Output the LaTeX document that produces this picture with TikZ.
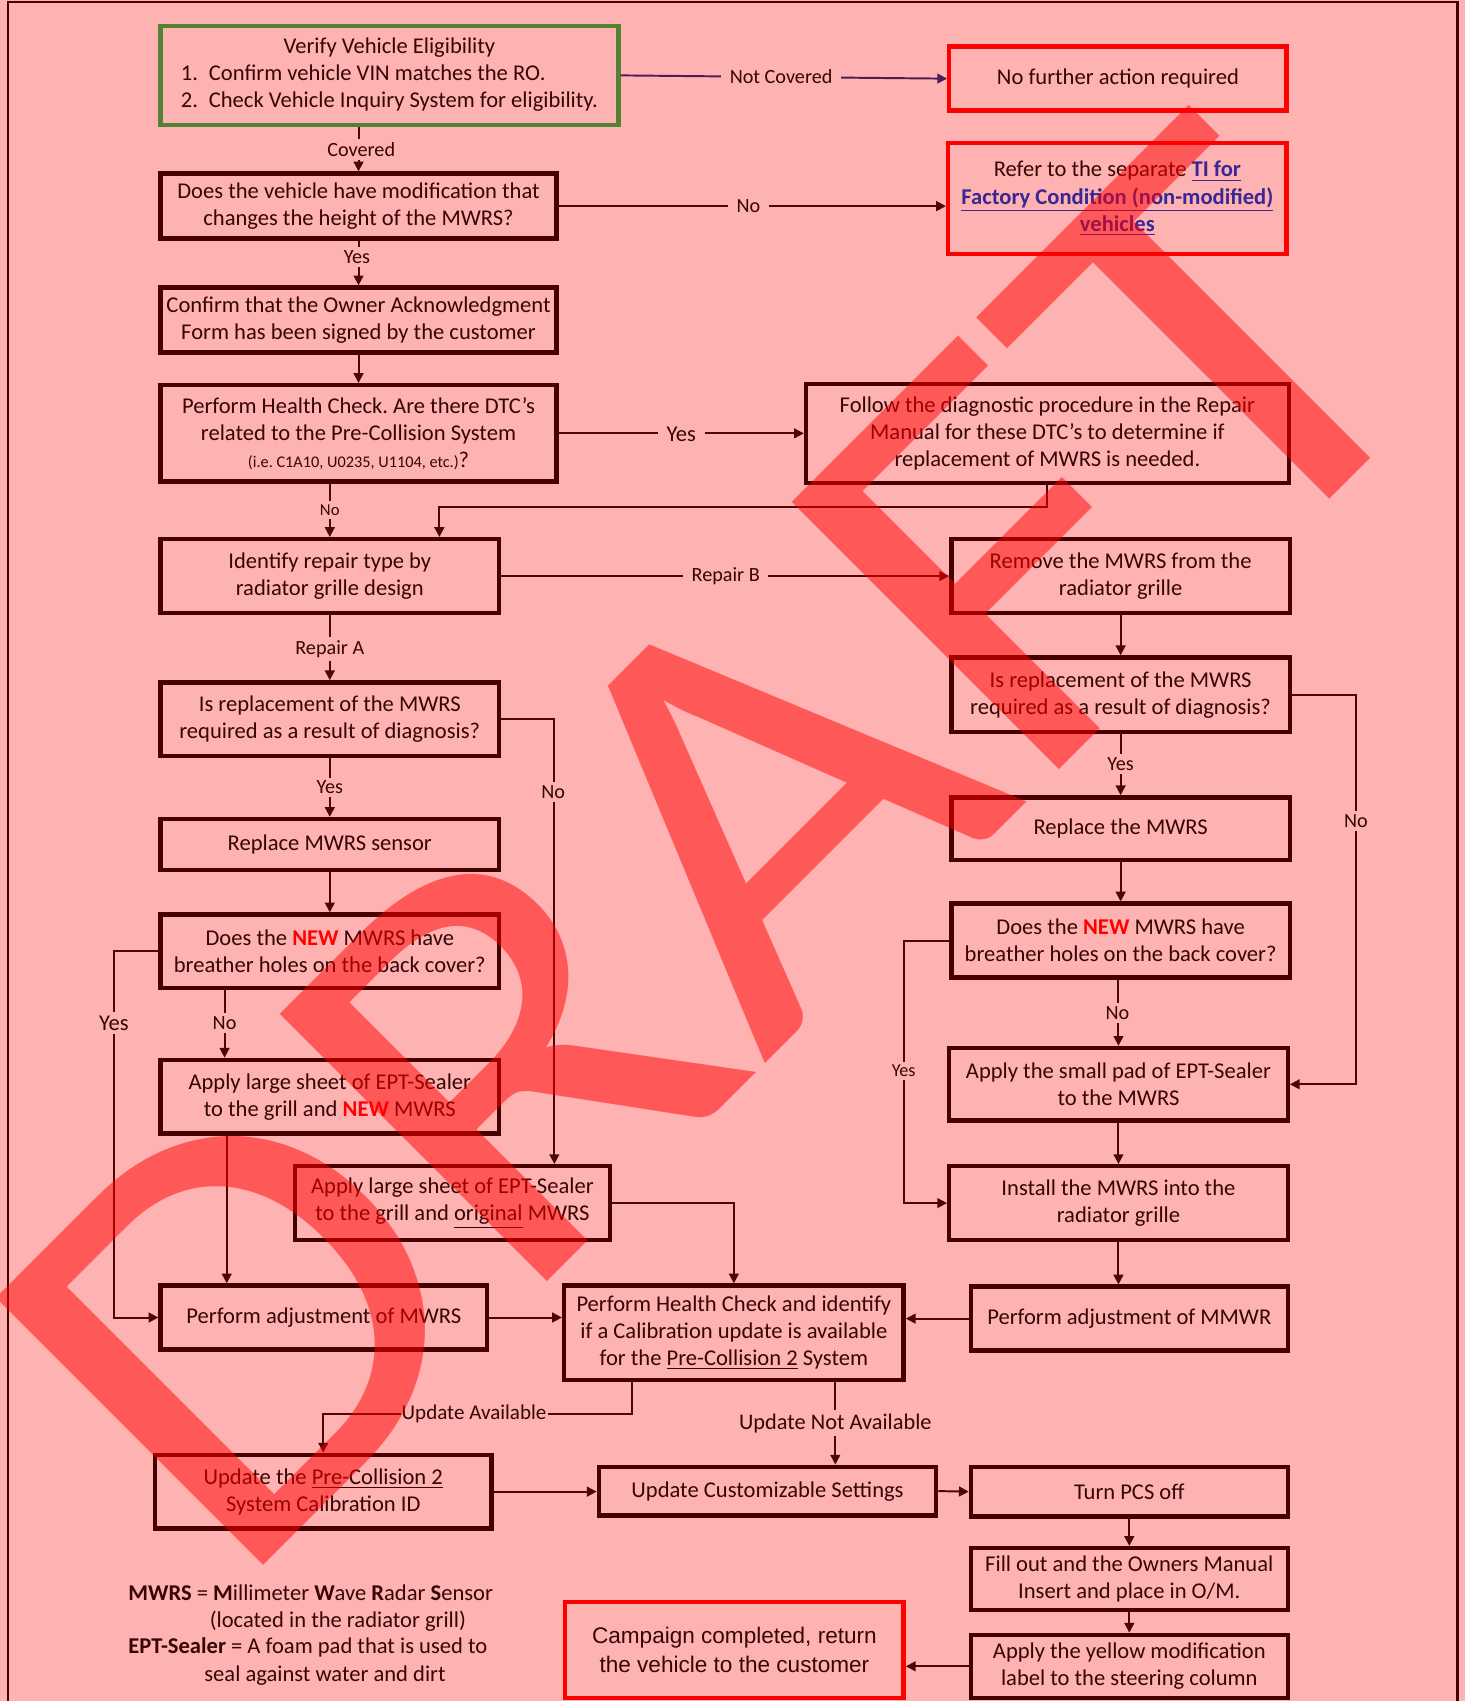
\documentclass[tikz,border=0pt]{standalone}
\usepackage{fontspec}
\setmainfont{Carlito}
\newfontfamily\arialf{Liberation Sans}
\usetikzlibrary{arrows.meta}
\frenchspacing
\definecolor{bg}{RGB}{255,178,178}
\definecolor{txt}{RGB}{55,5,5}
\definecolor{bx}{RGB}{70,0,0}
\definecolor{ln}{RGB}{80,5,5}
\definecolor{gr}{RGB}{84,130,53}
\definecolor{lk}{RGB}{55,40,150}
\definecolor{nc}{RGB}{75,30,85}
\newcommand\lnk[1]{\textcolor{lk}{\underline{\textbf{#1}}}}
\newcommand\nw{\textcolor{red}{\textbf{NEW}}}
\newcommand\mybox[7]{%
 \pgfmathsetmacro\bxcx{(#2+#4)/2}\pgfmathsetmacro\bxcy{(#3+#5)/2}%
 \pgfmathsetmacro\bxw{(#4-#2)*0.5}\pgfmathsetmacro\bxh{(#5-#3)*0.5}%
 \node[#6, minimum width=\bxw pt, minimum height=\bxh pt] (#1) at (\bxcx,\bxcy) {#7};}
\tikzset{
 box/.style={draw=bx, line width=2pt, inner sep=0pt, align=center, text=txt, font=\fontsize{10.4}{12.5}\selectfont},
 gbox/.style={box, draw=gr},
 rbox/.style={box, draw=red},
 conn/.style={draw=ln, line width=0.9pt},
 arr/.style={conn, -{Triangle[length=4.5pt,width=4.5pt]}},
 lab/.style={fill=bg, inner ysep=1.5pt, inner xsep=4pt, text=txt, font=\fontsize{9.3}{11}\selectfont},
 labL/.style={lab, font=\fontsize{10.4}{12}\selectfont},
 labS/.style={lab, font=\fontsize{7.7}{9}\selectfont},
 labM/.style={lab, font=\fontsize{8.4}{10}\selectfont},
 leg/.style={inner sep=0pt, text=txt, font=\fontsize{10.4}{12.5}\selectfont},
}
\begin{document}
\begin{tikzpicture}[x=0.5pt, y=-0.5pt]
\useasboundingbox (0,0) rectangle (1350,1568);
\fill[bg] (0,0) rectangle (1350,1568);
\draw[draw=bx, line width=1pt] (7,1575) -- (7,2) -- (1343.5,2) -- (1343.5,1575);

% boxes
\mybox{B1}{148}{24}{570}{115}{gbox}{\begin{tabular}{@{}l@{\hspace{5pt}}l@{}}\multicolumn{2}{c}{Verify Vehicle Eligibility}\\1.&Confirm vehicle VIN matches the RO.\\2.&Check Vehicle Inquiry System for eligibility.\end{tabular}}
\mybox{N1}{875}{43}{1186}{102}{rbox}{No further action required}
\mybox{B2}{148}{160}{513}{220}{box}{Does the vehicle have modification that\\changes the height of the MWRS?}
\mybox{N2}{874}{132}{1186}{234}{rbox}{Refer to the separate \lnk{TI for}\\\lnk{Factory Condition (non-modified)}\\\lnk{vehicles}}
\mybox{B3}{148}{265}{513}{325}{box}{Confirm that the Owner Acknowledgment\\Form has been signed by the customer}
\mybox{B4}{148}{355}{513}{444}{box}{Perform Health Check. Are there DTC’s\\related to the Pre-Collision System\\{\fontsize{7.5}{12.5}\selectfont(i.e. C1A10, U0235, U1104, etc.)}?}
\mybox{B5}{743}{354}{1188}{445}{box}{Follow the diagnostic procedure in the Repair\\Manual for these DTC’s to determine if\\replacement of MWRS is needed.}
\mybox{B6}{148}{497}{460}{565}{box}{Identify repair type by\\radiator grille design}
\mybox{B7}{877}{497}{1189}{565}{box}{Remove the MWRS from the\\radiator grille}
\mybox{B8}{877}{606}{1189}{675}{box}{Is replacement of the MWRS\\required as a result of diagnosis?}
\mybox{B9}{148}{629}{460}{697}{box}{Is replacement of the MWRS\\required as a result of diagnosis?}
\mybox{B10}{148}{755}{460}{802}{box}{Replace MWRS sensor}
\mybox{B12}{148}{843}{460}{911}{box}{Does the \nw{} MWRS have\\breather holes on the back cover?}
\mybox{B13}{148}{977}{460}{1045}{box}{Apply large sheet of EPT-Sealer\\to the grill and \nw{} MWRS}
\mybox{B11}{272}{1075}{562}{1143}{box}{Apply large sheet of EPT-Sealer\\to the grill and \underline{original} MWRS}
\mybox{B14}{148}{1185}{449}{1244}{box}{Perform adjustment of MWRS}
\mybox{B15}{520}{1185}{833}{1272}{box}{Perform Health Check and identify\\if a Calibration update is available\\for the \underline{Pre-Collision 2} System}
\mybox{B16}{895}{1186}{1187}{1245}{box}{Perform adjustment of MMWR}
\mybox{B17}{877}{735}{1189}{793}{box}{Replace the MWRS}
\mybox{B18}{877}{833}{1189}{901}{box}{Does the \nw{} MWRS have\\breather holes on the back cover?}
\mybox{B19}{875}{966}{1187}{1033}{box}{Apply the small pad of EPT-Sealer\\to the MWRS}
\mybox{B20}{875}{1075}{1187}{1143}{box}{Install the MWRS into the\\radiator grille}
\mybox{B21}{143}{1341}{453}{1409}{box}{Update the \underline{Pre-Collision 2}\\System Calibration ID}
\mybox{B22}{552}{1352}{863}{1397}{box}{Update Customizable Settings}
\mybox{B23}{895}{1352}{1187}{1398}{box}{Turn PCS off}
\mybox{B24}{895}{1427}{1187}{1484}{box}{Fill out and the Owners Manual\\Insert and place in O/M.}
\mybox{B25}{895}{1507}{1187}{1565}{box}{Apply the yellow modification\\label to the steering column}
\mybox{B26}{521}{1477}{833}{1565}{rbox, font=\arialf\fontsize{10.4}{13}\selectfont}{Campaign completed, return\\the vehicle to the customer}

% connectors
\draw[arr, draw=nc] (B1.east) -- (N1.west);
\node[lab] (l1) at (720,71) {Not Covered};
\draw[arr] (B2.north |- B1.south) -- (B2.north);
\node[lab] (l2) at (333,138) {Covered};
\draw[arr] (B2.east) -- (B2.east -| N2.west);
\node[lab] (l3) at (690,190) {No};
\draw[arr] (B2.south) -- (B3.north);
\node[lab] (l4) at (329,237) {Yes};
\draw[arr] (B3.south) -- (B4.north);
\draw[arr] (B4.east) -- (B5.west);
\node[labL] (l5) at (628,400) {Yes};
\draw[arr] (B6.north |- B4.south) -- (B6.north);
\node[labS] (l6) at (304,470) {No};
\draw[arr] (B5.south) -- (B5.south |- 0,467) -| (405,0 |- B6.north);
\draw[arr] (B6.east) -- (B7.west);
\node[lab] (l7) at (669,531) {Repair B};
\draw[arr] (B6.south) -- (B9.north);
\node[lab] (l8) at (304,598) {Repair A};
\draw[arr] (B7.south) -- (B8.north);
\draw[arr] (B9.east) -| (511,0 |- B11.north);
\node[lab] (l9) at (510,730) {No};
\draw[arr] (B9.south) -- (B10.north);
\node[lab] (l10) at (304,726) {Yes};
\draw[arr] (B10.south) -- (B12.north);
\draw[arr] (B12.west) -- (105,0 |- B12.west) |- (B14.west);
\node[labL] (l11) at (105,943) {Yes};
\draw[arr] (207,0 |- B12.south) -- (207,0 |- B13.north);
\node[lab] (l12) at (207,943) {No};
\draw[arr] (209,0 |- B13.south) -- (209,0 |- B14.north);
\draw[arr] (B11.east) -| (B15.north);
\draw[arr] (B14.east) -- (B14.east -| B15.west);
\draw[arr] (B16.west) -- (B16.west -| B15.east);
\draw[arr] (B8.east) -- (1250,0 |- B8.east) |- (B19.east);
\node[lab] (l13) at (1250,757) {No};
\draw[arr] (B8.south) -- (B17.north);
\node[lab] (l14) at (1033,704) {Yes};
\draw[arr] (B17.south) -- (B18.north);
\draw[arr] (B19.north |- B18.south) -- (B19.north);
\node[lab] (l15) at (1030,934) {No};
\draw[arr] (B18.west) -- (833,0 |- B18.west) |- (B20.west);
\node[labM] (l16) at (833,987) {Yes};
\draw[arr] (B19.south) -- (B20.north);
\draw[arr] (B20.south) -- (B20.south |- B16.north);
\draw[arr] (583,0 |- B15.south) |- (298,1303) -- (B21.north);
\node[lab, inner xsep=0.5pt, font=\fontsize{9.7}{11}\selectfont] (l17) at (437,1303) {Update Available};
\draw[arr] (770,0 |- B15.south) -- (770,0 |- B22.north);
\node[lab, font=\fontsize{10.3}{12}\selectfont] (l18) at (770,1312) {Update Not Available};
\draw[arr] (B21.east) -- (B21.east -| B22.west);
\draw[arr] (B22.east) -- (B23.west);
\draw[arr] (B23.south) -- (B24.north);
\draw[arr] (B24.south) -- (B25.north);
\draw[arr] (B25.west) -- (B25.west -| B26.east);

% legend
\node[leg, anchor=west] (L1) at (118,1468) {\textbf{MWRS} = \textbf{M}illimeter \textbf{W}ave \textbf{R}adar \textbf{S}ensor};
\node[leg, anchor=west] (L2) at (193,1494) {(located in the radiator grill)};
\node[leg, anchor=west] (L3) at (118,1519) {\textbf{EPT-Sealer} = A foam pad that is used to};
\node[leg, anchor=west] (L4) at (188,1545) {seal against water and dirt};

% watermark
\begin{scope}[shift={(214,1472)}, rotate=45, xscale=1.1, transform shape]
\node[anchor=base west, inner sep=0pt, text=red, text opacity=0.5] (wm) {\fontsize{271.5}{271.5}\selectfont DRAFT};
\end{scope}
\end{tikzpicture}
\end{document}
